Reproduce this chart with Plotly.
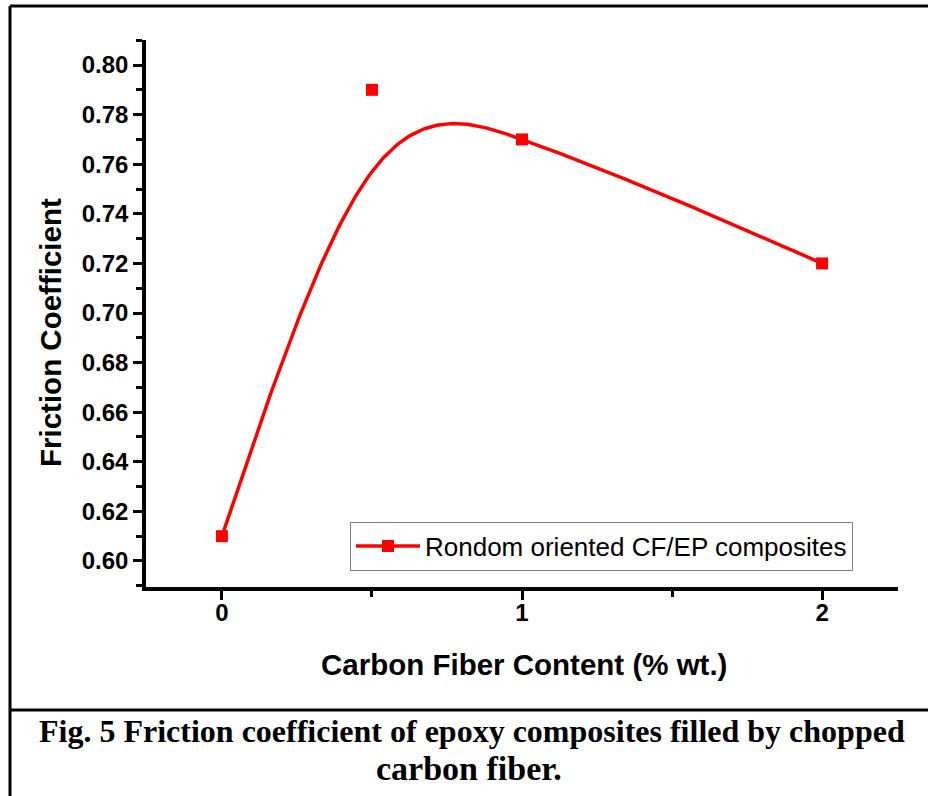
import numpy as np
import plotly.graph_objects as go

# ---- data ----
fiber_content = [0, 0.5, 1, 2]                 # % wt.
friction_measured = [0.61, 0.79, 0.77, 0.72]  # square symbols
friction_spline = [0.61, 0.757, 0.77, 0.72]   # anchors of the drawn spline connection
series_name = "Rondom oriented CF/EP composites"
y_ticks = [0.60, 0.62, 0.64, 0.66, 0.68, 0.70, 0.72, 0.74, 0.76, 0.78, 0.80]
x_ticks = [0, 1, 2]


def natural_cubic_spline(xk, yk, n=300):
    """Origin-style 'Spline' connection: natural cubic spline through anchors."""
    xk = np.asarray(xk, float)
    yk = np.asarray(yk, float)
    h = np.diff(xk)
    m = len(xk)
    A = np.zeros((m, m))
    r = np.zeros(m)
    A[0, 0] = A[-1, -1] = 1.0
    for i in range(1, m - 1):
        A[i, i - 1] = h[i - 1]
        A[i, i] = 2 * (h[i - 1] + h[i])
        A[i, i + 1] = h[i]
        r[i] = 6 * ((yk[i + 1] - yk[i]) / h[i] - (yk[i] - yk[i - 1]) / h[i - 1])
    M = np.linalg.solve(A, r)
    xs = np.linspace(xk[0], xk[-1], n)
    idx = np.clip(np.searchsorted(xk, xs, side="right") - 1, 0, m - 2)
    x0, x1 = xk[idx], xk[idx + 1]
    y0, y1 = yk[idx], yk[idx + 1]
    M0, M1 = M[idx], M[idx + 1]
    hh = x1 - x0
    a = (x1 - xs) / hh
    b = (xs - x0) / hh
    ys = a * y0 + b * y1 + ((a ** 3 - a) * M0 + (b ** 3 - b) * M1) * hh ** 2 / 6
    return xs, ys


sx, sy = natural_cubic_spline(fiber_content, friction_spline)

RED = "#ff0000"
W, H = 928, 796
L, R, T, B = 146, 898, 40, 587

fig = go.Figure()
fig.add_trace(go.Scatter(x=sx, y=sy, mode="lines", line=dict(color=RED, width=3.5),
                         showlegend=False, hoverinfo="skip"))
fig.add_trace(go.Scatter(x=fiber_content, y=friction_measured, mode="markers",
                         marker=dict(symbol="square", size=12, color=RED),
                         showlegend=False))
fig.add_trace(go.Scatter(x=[None], y=[None], mode="lines+markers", name=series_name,
                         line=dict(color=RED, width=3.5),
                         marker=dict(symbol="square", size=12, color=RED)))

tickfont = dict(family="Liberation Sans", size=24, color="black", weight="bold")

fig.update_layout(
    width=W, height=H,
    margin=dict(l=0, r=0, t=0, b=0),
    paper_bgcolor="white", plot_bgcolor="white",
    showlegend=True,
    legend=dict(x=350 / W, xanchor="left", y=1 - 546 / H, yanchor="middle",
                bordercolor="#808080", borderwidth=1, bgcolor="white",
                font=dict(family="Liberation Sans", size=26, color="black"),
                itemwidth=64),
    xaxis=dict(domain=[L / W, R / W], range=[-0.253, 2.253],
               tickvals=x_ticks, ticktext=[str(v) for v in x_ticks],
               ticks="outside", ticklen=9, tickwidth=3, tickcolor="black",
               minor=dict(tickvals=[0.5, 1.5], ticks="outside", ticklen=6,
                          tickwidth=3, tickcolor="black"),
               showline=True, linewidth=3.5, linecolor="black",
               showgrid=False, zeroline=False, tickfont=tickfont,
               ticklabelstandoff=-8),
    yaxis=dict(domain=[1 - B / H, 1 - T / H], range=[0.5895, 0.8101],
               tickvals=y_ticks, ticktext=[f"{v:.2f}" for v in y_ticks],
               ticks="outside", ticklen=9, tickwidth=3, tickcolor="black",
               minor=dict(dtick=0.01, tick0=0.59, ticks="outside", ticklen=6,
                          tickwidth=3, tickcolor="black"),
               showline=True, linewidth=3.5, linecolor="black",
               showgrid=False, zeroline=False, tickfont=tickfont,
               ticklabelstandoff=0),
    xaxis2=dict(overlaying="x", side="top", anchor="y", range=[-0.253, 2.253],
                tickvals=[0, 0.25, 0.5, 0.75, 1, 1.25, 1.5, 1.75, 2],
                showticklabels=False, ticks="inside", ticklen=9, tickwidth=2,
                tickcolor="black", showline=True, linewidth=2, linecolor="black",
                showgrid=False, zeroline=False),
    yaxis2=dict(overlaying="y", side="right", anchor="x", range=[0, 10],
                tickvals=[1, 2, 3, 4, 5, 6, 7, 8, 9],
                showticklabels=False, ticks="inside", ticklen=9, tickwidth=2,
                tickcolor="black", showline=True, linewidth=2, linecolor="black",
                showgrid=False, zeroline=False),
)

# axis titles
fig.add_annotation(text="<b>Friction Coefficient</b>", x=50 / W, y=1 - 333 / H,
                   xref="paper", yref="paper", xanchor="center", yanchor="middle",
                   textangle=-90, showarrow=False,
                   font=dict(family="Liberation Sans", size=29.5, color="black"))
fig.add_annotation(text="<b>Carbon Fiber Content (% wt.)</b>", x=524 / W, y=1 - 664 / H,
                   xref="paper", yref="paper", xanchor="center", yanchor="middle",
                   showarrow=False,
                   font=dict(family="Liberation Sans", size=29.5, color="black"))

# caption (two centred lines)
cap_font = dict(family="Liberation Serif", size=32, color="black")
fig.add_annotation(text="<b>Fig. 5 Friction coefficient of epoxy composites filled by chopped</b>",
                   x=472 / W, y=1 - 731 / H, xref="paper", yref="paper",
                   xanchor="center", yanchor="middle", showarrow=False, font=cap_font)
fig.add_annotation(text="<b>carbon fiber.</b>",
                   x=469 / W, y=1 - 768 / H, xref="paper", yref="paper",
                   xanchor="center", yanchor="middle", showarrow=False,
                   font=dict(family="Liberation Serif", size=34, color="black"))

# page frame
frame = dict(color="black", width=3)
fig.add_shape(type="line", xref="paper", yref="paper", x0=10 / W, x1=10 / W, y0=0, y1=1 - 6 / H, line=frame)
fig.add_shape(type="line", xref="paper", yref="paper", x0=10 / W, x1=1, y0=1 - 6 / H, y1=1 - 6 / H, line=frame)
fig.add_shape(type="line", xref="paper", yref="paper", x0=10 / W, x1=1, y0=1 - 710 / H, y1=1 - 710 / H, line=frame)

fig.write_html("out.html")
